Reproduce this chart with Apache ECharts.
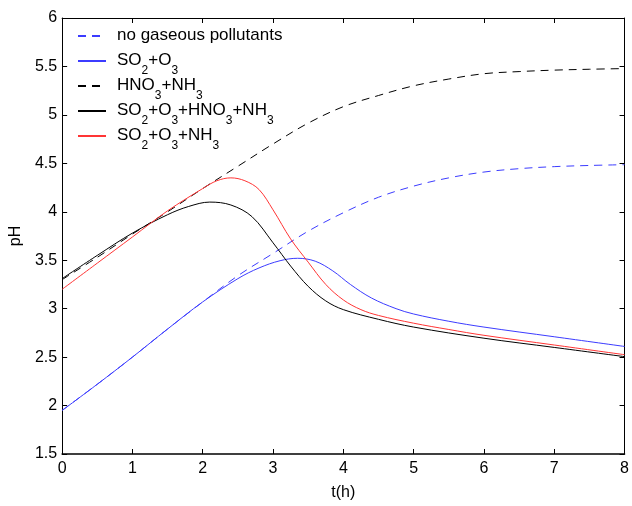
<!DOCTYPE html>
<html>
<head>
<meta charset="utf-8">
<script src="https://cdn.jsdelivr.net/npm/echarts@6/dist/echarts.min.js"></script>
<style>html,body{margin:0;padding:0;background:#fff}#c{width:632px;height:506px}</style>
</head>
<body>
<div id="c"></div>
<script>
// sample times (h) and pH values per scenario
const tNone = [0,0.5,1,1.5,2,2.5,3,3.5,4,4.5,5,5.5,6,6.5,7,7.5,8];
const phNone = [1.95,2.22,2.50,2.79,3.07,3.34,3.57,3.80,3.99,4.15,4.265,4.35,4.41,4.445,4.466,4.478,4.486];

const tSO2O3 = [0,0.5,1,1.5,2,2.5,2.8,3.1,3.35,3.6,3.85,4.1,4.4,4.75,5,5.5,6,7,8];
const phSO2O3 = [1.95,2.22,2.50,2.79,3.07,3.31,3.42,3.495,3.52,3.49,3.39,3.25,3.11,3.00,2.945,2.87,2.81,2.71,2.61];

const tHNO3NH3 = [0,0.5,1,1.5,2,2.5,3,3.5,4,4.5,5,5.5,6,6.5,7,7.5,8];
const phHNO3NH3 = [3.30,3.53,3.77,4.00,4.24,4.47,4.70,4.915,5.085,5.20,5.30,5.37,5.425,5.447,5.462,5.471,5.478];

const tAll = [0,0.5,1,1.5,1.8,2.1,2.4,2.7,3.0,3.25,3.5,3.75,4,4.5,5,6,7,8];
const phAll = [3.31,3.55,3.78,3.97,4.055,4.10,4.07,3.95,3.68,3.44,3.23,3.08,2.99,2.89,2.81,2.695,2.60,2.505];

const tSO2O3NH3 = [0,0.5,1,1.5,2,2.2,2.4,2.6,2.8,3.0,3.25,3.5,3.75,4,4.25,4.5,5,5.5,6,7,8];
const phSO2O3NH3 = [3.20,3.47,3.74,4.01,4.24,4.32,4.35,4.32,4.23,4.02,3.72,3.48,3.25,3.09,2.99,2.93,2.85,2.785,2.725,2.625,2.525];

// tick labels
const xTicks = [0,1,2,3,4,5,6,7,8];
const yTicks = [1.5,2,2.5,3,3.5,4,4.5,5,5.5,6];

const names = ['no gaseous pollutants','SO2+O3','HNO3+NH3','SO2+O3+HNO3+NH3','SO2+O3+NH3'];
const FONT = 'Liberation Sans, Arial, Helvetica, sans-serif';

function pairs(ts, ys){ return ts.map((x,i)=>[x, ys[i]]); }
function fmt(name){
  let s = name.replace(/([A-Z])(\d)/g, '$1{s|$2}');
  let parts = s.split(/(\{s\|\d\})/).filter(p=>p.length);
  let out = parts.map(p => p.startsWith('{s|') ? p : '{n|' + p + '}').join('');
  if (name.indexOf('2')<0 && name.indexOf('3')<0) out += '{s| }';
  return '{g| }' + out;
}

const blue = '#3c3cff', red = '#ff3535', black = '#000000';
function ser(name, ts, ys, color, dashed){
  return {
    name: name, type: 'line', data: pairs(ts, ys), smooth: 0.35, symbol: 'none',
    lineStyle: {color: color, width: 1, type: dashed ? [8,6] : 'solid'},
    itemStyle: {color: color}
  };
}

const chart = echarts.init(document.getElementById('c'));
function ax(extra, w){
  return Object.assign({
    type: 'value',
    axisLine: {show: true, onZero: false, lineStyle: {color: '#000', width: w || 1}},
    axisTick: {show: true, inside: true, length: 5, lineStyle: {color: '#000', width: 1}},
    splitLine: {show: false}
  }, extra);
}
chart.setOption({
  animation: false,
  backgroundColor: '#fff',
  grid: {left: 60, right: 5, top: 18, bottom: 41, containLabel: false},
  legend: {
    left: 77, top: 27, orient: 'vertical', padding: 0, itemGap: 0,
    itemWidth: 28, itemHeight: 14,
    data: names,
    formatter: fmt,
    itemStyle: {opacity: 0, borderWidth: 0},
    textStyle: {
      fontFamily: FONT, fontSize: 17, color: '#000',
      rich: {
        g: {width: 6, fontSize: 17},
        n: {fontFamily: FONT, fontSize: 17, color: '#000', lineHeight: 18, verticalAlign: 'top'},
        s: {fontFamily: FONT, fontSize: 12, color: '#000', lineHeight: 12, verticalAlign: 'top', padding: [13,0,0,0]}
      }
    }
  },
  xAxis: [
    ax({
      min: xTicks[0], max: xTicks[xTicks.length-1], interval: 1, position: 'bottom',
      axisLabel: {fontFamily: FONT, fontSize: 16, color: '#000', margin: 7},
      name: 't(h)', nameLocation: 'middle', nameGap: 31,
      nameTextStyle: {fontFamily: FONT, fontSize: 16, color: '#000'}
    }, 1.6),
    ax({
      min: xTicks[0], max: xTicks[xTicks.length-1], interval: 1, position: 'top',
      axisLabel: {show: false}
    })
  ],
  yAxis: [
    ax({
      min: yTicks[0], max: yTicks[yTicks.length-1], interval: 0.5, position: 'left',
      axisLabel: {fontFamily: FONT, fontSize: 16, color: '#000', margin: 5},
      name: 'pH', nameLocation: 'middle', nameGap: 28,
      nameTextStyle: {fontFamily: FONT, fontSize: 16, color: '#000'}
    }),
    ax({
      min: yTicks[0], max: yTicks[yTicks.length-1], interval: 0.5, position: 'right',
      axisLabel: {show: false}
    })
  ],
  series: [
    ser(names[0], tNone, phNone, blue, true),
    ser(names[1], tSO2O3, phSO2O3, blue, false),
    ser(names[2], tHNO3NH3, phHNO3NH3, black, true),
    ser(names[3], tAll, phAll, black, false),
    ser(names[4], tSO2O3NH3, phSO2O3NH3, red, false)
  ]
});
</script>
</body>
</html>
